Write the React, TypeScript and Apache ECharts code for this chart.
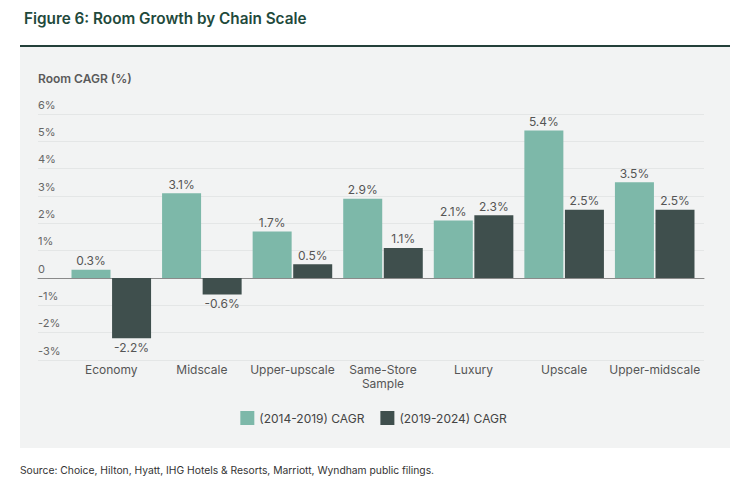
import React, { useEffect, useRef } from "react";
import * as echarts from "echarts";

const categories = ["Economy", "Midscale", "Upper-upscale", "Same-Store\nSample", "Luxury", "Upscale", "Upper-midscale"];
const series2014 = [0.3, 3.1, 1.7, 2.9, 2.1, 5.4, 3.5];
const series2019 = [-2.2, -0.6, 0.5, 1.1, 2.3, 2.5, 2.5];
const seriesNames = ["(2014-2019) CAGR", "(2019-2024) CAGR"];
const yMin = -3;
const yMax = 6;

const FONT = "Inter, 'Noto Sans', sans-serif";
const LIGHT = "#7db8a9";
const DARK = "#3f4f4d";

export default function App() {
  const ref = useRef<HTMLDivElement>(null);
  useEffect(() => {
    if (!ref.current) return;
    const chart = echarts.init(ref.current, undefined, { renderer: "svg" });
    const labelFmt = (p: any) => `${p.value}%`;
    chart.setOption({
      animation: false,
      backgroundColor: "#ffffff",
      textStyle: { fontFamily: FONT },
      title: {
        text: "Figure 6: Room Growth by Chain Scale",
        left: 19,
        top: 6,
        textStyle: { fontFamily: FONT, fontSize: 15.3, fontWeight: 600, color: "#1f4a3c" },
      },
      graphic: [
        { type: "rect", z: -10, shape: { x: 20, y: 47, width: 710, height: 401 }, style: { fill: "#f2f3f3" } },
        { type: "rect", z: -9, shape: { x: 20, y: 45, width: 710, height: 2 }, style: { fill: "#23403a" } },
        {
          type: "text",
          left: 38,
          top: 72,
          style: { text: "Room CAGR (%)", fontFamily: FONT, fontSize: 12, fontWeight: 600, fill: "#5a5a5a" },
        },
        {
          type: "text",
          left: 20,
          top: 465,
          style: {
            text: "Source: Choice, Hilton, Hyatt, IHG Hotels & Resorts, Marriott, Wyndham public filings.",
            fontFamily: FONT,
            fontSize: 10.3,
            fill: "#333333",
          },
        },
      ],
      legend: {
        data: seriesNames,
        left: "center",
        top: 406,
        itemWidth: 14,
        itemHeight: 14,
        itemGap: 16,
        icon: "rect",
        textStyle: { fontFamily: FONT, fontSize: 12, color: "#444444" },
      },
      grid: [
        { left: 38, right: 43, top: 114, bottom: 486 - 360, containLabel: false },
        { left: 66, right: 47, top: 114, bottom: 486 - 360, containLabel: false },
      ],
      xAxis: [
        {
          type: "category",
          gridIndex: 0,
          data: [""],
          axisLine: { show: true, onZero: true, lineStyle: { color: "#8a8a8a", width: 1 } },
          axisTick: { show: false },
          axisLabel: { show: false },
        },
        {
          type: "category",
          gridIndex: 1,
          data: categories,
          axisLine: { show: false },
          axisTick: { show: false },
          axisLabel: {
            interval: 0,
            fontFamily: FONT,
            fontSize: 12,
            color: "#555555",
            margin: 2,
            lineHeight: 14,
            verticalAlign: "top",
          },
        },
      ],
      yAxis: [
        {
          type: "value",
          gridIndex: 0,
          min: yMin,
          max: yMax,
          interval: 1,
          axisLine: { show: false },
          axisTick: { show: false },
          splitLine: { lineStyle: { color: "#e4e6e6", width: 1 } },
          axisLabel: {
            inside: true,
            align: "left",
            verticalAlign: "bottom",
            margin: 0,
            padding: [0, 0, 4, 0],
            fontFamily: FONT,
            fontSize: 11,
            color: "#666666",
            formatter: (v: number) => (v === 0 ? "0" : `${v}%`),
          },
        },
        {
          type: "value",
          gridIndex: 1,
          min: yMin,
          max: yMax,
          interval: 1,
          show: false,
          splitLine: { show: false },
        },
      ],
      series: [
        {
          name: seriesNames[0],
          type: "bar",
          xAxisIndex: 1,
          yAxisIndex: 1,
          data: series2014.map((v) => ({
            value: v,
            label: { position: v < 0 ? "bottom" : "top" },
          })),
          barWidth: 39,
          barGap: "4%",
          itemStyle: { color: LIGHT },
          label: { show: true, formatter: labelFmt, fontFamily: FONT, fontSize: 12, color: "#555555", distance: 3 },
        },
        {
          name: seriesNames[1],
          type: "bar",
          xAxisIndex: 1,
          yAxisIndex: 1,
          data: series2019.map((v) => ({
            value: v,
            label: { position: v < 0 ? "bottom" : "top" },
          })),
          barWidth: 39,
          barGap: "4%",
          itemStyle: { color: DARK },
          label: { show: true, formatter: labelFmt, fontFamily: FONT, fontSize: 12, color: "#555555", distance: 3 },
        },
      ],
    });
    return () => chart.dispose();
  }, []);
  return (
    <div
      ref={ref}
      style={{ position: "fixed", left: 0, top: 0, width: 747, height: 486 }}
    />
  );
}
